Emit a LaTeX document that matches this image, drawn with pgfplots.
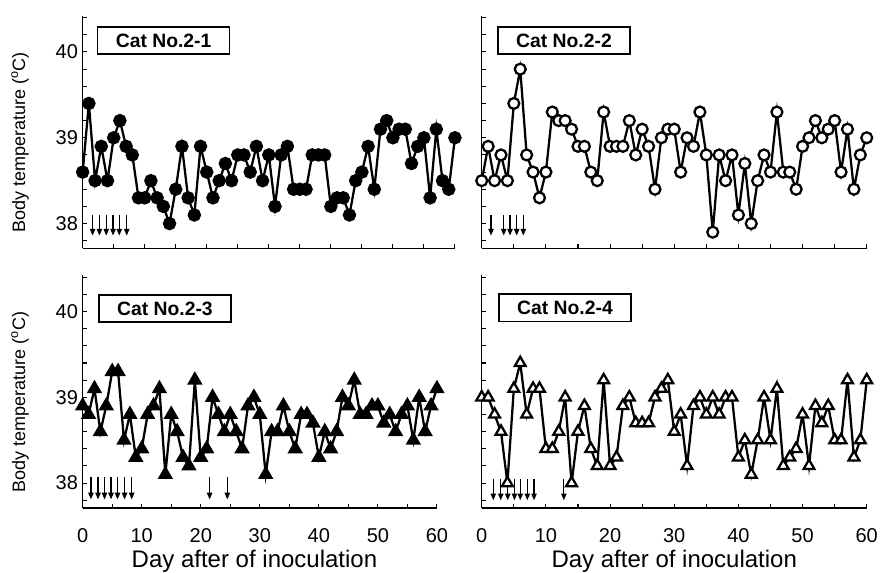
\documentclass[border=0pt]{standalone}
\usepackage{fontspec}
\setmainfont{Liberation Sans}
\usepackage{pgfplots}
\pgfplotsset{compat=1.18}
\usepackage{pgfplotstable}
\usetikzlibrary{arrows.meta}

% body temperature per day, cats 2-1 .. 2-4
\pgfplotstableread{
day c1   c2   c3   c4
0   38.6 38.5 38.9 39.0
1   39.4 38.9 38.8 39.0
2   38.5 38.5 39.1 38.8
3   38.9 38.8 38.6 38.6
4   38.5 38.5 38.9 38.0
5   39.0 39.4 39.3 39.1
6   39.2 39.8 39.3 39.4
7   38.9 38.8 38.5 38.8
8   38.8 38.6 38.8 39.1
9   38.3 38.3 38.3 39.1
10  38.3 38.6 38.4 38.4
11  38.5 39.3 38.8 38.4
12  38.3 39.2 38.9 38.6
13  38.2 39.2 39.1 39.0
14  38.0 39.1 38.1 38.0
15  38.4 38.9 38.8 38.6
16  38.9 38.9 38.6 38.9
17  38.3 38.6 38.3 38.4
18  38.1 38.5 38.2 38.2
19  38.9 39.3 39.2 39.2
20  38.6 38.9 38.3 38.2
21  38.3 38.9 38.4 38.3
22  38.5 38.9 39.0 38.9
23  38.7 39.2 38.8 39.0
24  38.5 38.8 38.6 38.7
25  38.8 39.1 38.8 38.7
26  38.8 38.9 38.6 38.7
27  38.6 38.4 38.4 39.0
28  38.9 39.0 38.9 39.1
29  38.5 39.1 39.0 39.2
30  38.8 39.1 38.8 38.6
31  38.2 38.6 38.1 38.8
32  38.8 39.0 38.6 38.2
33  38.9 38.9 38.6 38.9
34  38.4 39.3 38.9 39.0
35  38.4 38.8 38.6 38.8
36  38.4 37.9 38.4 39.0
37  38.8 38.8 38.8 38.8
38  38.8 38.5 38.8 39.0
39  38.8 38.8 38.7 39.0
40  38.2 38.1 38.3 38.3
41  38.3 38.7 38.6 38.5
42  38.3 38.0 38.4 38.1
43  38.1 38.5 38.6 38.5
44  38.5 38.8 39.0 39.0
45  38.6 38.6 38.9 38.5
46  38.9 39.3 39.2 39.1
47  38.4 38.6 38.8 38.2
48  39.1 38.6 38.8 38.3
49  39.2 38.4 38.9 38.4
50  39.0 38.9 38.9 38.8
51  39.1 39.0 38.7 38.2
52  39.1 39.2 38.8 38.9
53  38.7 39.0 38.6 38.7
54  38.9 39.1 38.8 38.9
55  39.0 39.2 38.9 38.5
56  38.3 38.6 38.5 38.5
57  39.1 39.1 39.0 39.2
58  38.5 38.4 38.6 38.3
59  38.4 38.8 38.9 38.5
60  39.0 39.0 39.1 39.2
}\temps

\pgfplotsset{
  catpanel/.style={
    scale only axis, height=174.4pt, clip=false,
    xmin=0, xmax=60, ymin=37.71, ymax=40.42,
    axis x line*=bottom, axis y line*=left,
    axis line style={line width=1pt, -},
    tick align=inside, major tick length=3pt, minor tick length=3pt,
    tick style={line width=0.8pt, black},
    xtick={0,10,...,60}, minor xtick={5,15,...,55},
    ytick={38,39,40},
    minor ytick={37.8,38.2,38.4,38.6,38.8,39.2,39.4,39.6,39.8,40.2,40.4},
    tick label style={font=\fontsize{15}{18}\selectfont},
    /pgf/number format/assume math mode=true,
    xticklabel style={anchor=base, yshift=-26pt},
    every axis y label/.style={at={(axis description cs:0,0.5)},
      xshift=-47pt, yshift=-7.7pt, rotate=90, anchor=center,
      font=\fontsize{13.5}{16}\selectfont},
    every axis x label/.style={at={(axis description cs:0.5,0)},
      anchor=base, yshift=-44.8pt, font=\fontsize{18}{21}\selectfont},
  },
  catline/.style={black, line width=1.7pt, mark options={solid, line width=0.8pt}},
}
\tikzset{
  catbox/.style={draw, line width=1pt, anchor=north west, minimum width=99pt,
    minimum height=20.3pt, inner sep=0pt, font=\bfseries\fontsize{14.5}{16}\selectfont},
  dose/.style={line width=0.9pt, -{Triangle[length=5pt, width=4pt]}},
}

\begin{document}
\begin{tikzpicture}
\useasboundingbox (0,0) rectangle (660.75pt,429.75pt);

% Cat No.2-1
\begin{axis}[catpanel, at={(62pt,243.4pt)}, anchor=south west, width=279.2pt,
  xticklabels={}, ylabel={Body temperature (\textsuperscript{o}C)}]
\addplot[catline, mark=*, mark size=4.2pt, mark options={fill=black}] table[x=day, y=c1] {\temps};
\node[catbox] at (axis cs:2.3,40.3) {Cat No.2-1};
\pgfplotsinvokeforeach{1.6,2.7,3.8,4.9,5.9,7.1}{
  \draw[dose] (axis cs:#1,38.10) -- (axis cs:#1,37.86);
}
\end{axis}

% Cat No.2-2
\begin{axis}[catpanel, at={(361.3pt,243.4pt)}, anchor=south west, width=288.75pt,
  xticklabels={}, yticklabels={}]
\addplot[catline, mark=*, mark size=4.1pt, mark options={fill=white, draw=black}] table[x=day, y=c2] {\temps};
\node[catbox] at (axis cs:2.43,40.3) {Cat No.2-2};
\pgfplotsinvokeforeach{1.45,3.43,4.41,5.45,6.48}{
  \draw[dose] (axis cs:#1,38.10) -- (axis cs:#1,37.86);
}
\end{axis}

% Cat No.2-3
\begin{axis}[catpanel, at={(62pt,48.75pt)}, anchor=south west, width=265.7pt,
  ylabel={Body temperature (\textsuperscript{o}C)},
  xlabel={Day after of inoculation}, xlabel style={xshift=-4pt}]
\addplot[catline, mark=triangle*, mark size=5pt, mark options={fill=black}] table[x=day, y=c3] {\temps};
\node[catbox] at (axis cs:2.64,40.2) {Cat No.2-3};
\pgfplotsinvokeforeach{1.4,2.6,3.7,4.8,5.9,7.1,8.3,21.5,24.5}{
  \draw[dose] (axis cs:#1,38.07) -- (axis cs:#1,37.81);
}
\end{axis}

% Cat No.2-4
\begin{axis}[catpanel, at={(361.3pt,48.75pt)}, anchor=south west, width=288.75pt,
  yticklabels={}, xlabel={Day after of inoculation}]
\addplot[catline, mark=triangle*, mark size=4.7pt, mark options={fill=white, draw=black}] table[x=day, y=c4] {\temps};
\node[catbox] at (axis cs:2.59,40.21) {Cat No.2-4};
\pgfplotsinvokeforeach{1.8,2.96,4.05,5.1,6.0,7.1,8.15,12.8}{
  \draw[dose] (axis cs:#1,38.05) -- (axis cs:#1,37.80);
}
\end{axis}
\end{tikzpicture}
\end{document}
